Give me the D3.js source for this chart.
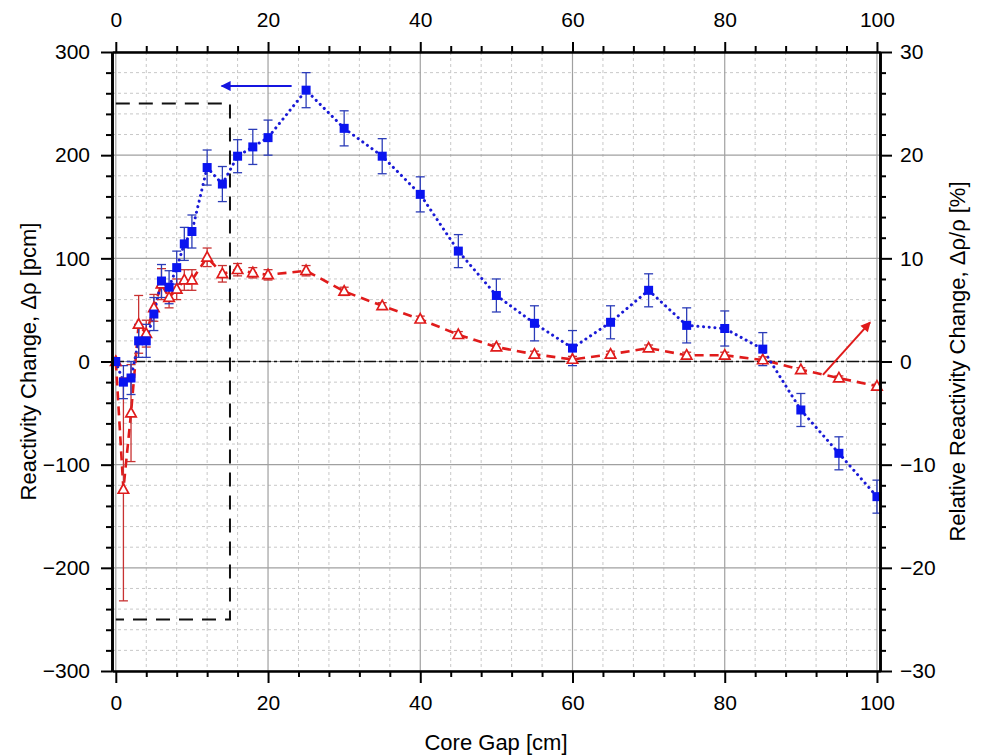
<!DOCTYPE html>
<html>
<head>
<meta charset="utf-8">
<script src="https://cdn.jsdelivr.net/npm/d3@7"></script>
<style>
  html, body { margin: 0; padding: 0; background: #fff; }
  svg { display: block; font-family: Arial, "Liberation Sans", sans-serif; }
</style>
</head>
<body>
<svg id="chart" width="982" height="755"></svg>
<script>
// Core gap positions [cm]
const gaps = [0,1,2,3,4,5,6,7,8,9,10,12,14,16,18,20,25,30,35,40,45,50,55,60,65,70,75,80,85,90,95,100];
// Reactivity change [pcm] and its uncertainty (left axis)
const reactivity = [0,-20,-16,20,20,46,78,72,91,114,126,188,172,199,208,217,263,226,199,162,107,64,37,13,38,69,35,32,12,-47,-89,-131];
const reactivityErr = [0,16,16,16,16,16,16,16,16,16,16,17,17,16,17,17,17,17,17,17,16,16,17,17,16,16,17,17,16,16,16,16];
// Relative reactivity change [%] and its uncertainty (right axis)
const relative = [0,-12.4,-5.0,3.6,2.7,5.2,7.5,6.2,7.0,7.9,7.9,10.1,8.5,8.9,8.6,8.4,8.8,6.8,5.4,4.1,2.6,1.4,0.7,0.2,0.7,1.3,0.6,0.6,0.15,-0.8,-1.6,-2.4];
const relativeErr = [0,10.8,4.7,2.8,1.3,1.3,1.5,1.0,1.0,1.0,1.0,0.9,0.8,0.6,0.5,0.5,0.5,0.4,0.3,0.3,0.3,0.3,0.3,0.3,0.3,0.3,0.3,0.3,0.3,0.2,0.2,0.2];

// Axis ticks
const xMajor = [0,20,40,60,80,100];
const yLeftMajor = [-300,-200,-100,0,100,200,300];
const yRightMajor = [-30,-20,-10,0,10,20,30];

// Zoomed-in region box and direction arrows
const boxX = [0, 15];
const boxY = [-250, 250];
const blueArrow = {from: [23.1, 267], to: [13.9, 267]};
const redArrow = {from: [92.9, -1.3], to: [99.1, 3.8]};

const svg = d3.select("#chart");
const L = 112, R = 880, T = 52, B = 671;

const x = d3.scaleLinear().domain([-0.5, 100.4]).range([L, R]);
const y = d3.scaleLinear().domain([-300, 300]).range([B, T]);
const yR = d3.scaleLinear().domain([-30, 30]).range([B, T]);

const xMinor = d3.range(0, 101, 4).filter(v => v % 20 !== 0);
const yMinor = d3.range(-300, 301, 20).filter(v => v % 100 !== 0);
const yRMinor = d3.range(-30, 31, 2).filter(v => v % 10 !== 0);

// Grid
const grid = svg.append("g");
grid.selectAll(".gxm").data(xMinor).join("line")
  .attr("x1", d => x(d)).attr("x2", d => x(d)).attr("y1", T).attr("y2", B)
  .attr("stroke", "#c8c8c8").attr("stroke-width", 1).attr("stroke-dasharray", "3,3");
grid.selectAll(".gym").data(yMinor).join("line")
  .attr("x1", L).attr("x2", R).attr("y1", d => y(d)).attr("y2", d => y(d))
  .attr("stroke", "#c8c8c8").attr("stroke-width", 1).attr("stroke-dasharray", "3,3");
grid.selectAll(".gxM").data(xMajor).join("line")
  .attr("x1", d => x(d)).attr("x2", d => x(d)).attr("y1", T).attr("y2", B)
  .attr("stroke", "#a0a0a0").attr("stroke-width", 1.2);
grid.selectAll(".gyM").data(yLeftMajor).join("line")
  .attr("x1", L).attr("x2", R).attr("y1", d => y(d)).attr("y2", d => y(d))
  .attr("stroke", "#a0a0a0").attr("stroke-width", 1.2);

// Zero reference line
svg.append("line")
  .attr("x1", L).attr("x2", R).attr("y1", y(0)).attr("y2", y(0))
  .attr("stroke", "#111").attr("stroke-width", 1.6).attr("stroke-dasharray", "12,3,3,3");

// Dashed box around the small-gap region (top, right and bottom sides)
svg.append("path")
  .attr("d", d3.line()([[x(boxX[0]), y(boxY[1])], [x(boxX[1]), y(boxY[1])], [x(boxX[1]), y(boxY[0])], [x(boxX[0]), y(boxY[0])]]))
  .attr("fill", "none").attr("stroke", "#111").attr("stroke-width", 2).attr("stroke-dasharray", "14,9");

const blueData = gaps.map((g, i) => ({g, v: reactivity[i], e: reactivityErr[i]}));
const redData = gaps.map((g, i) => ({g, v: relative[i], e: relativeErr[i]}));

// Relative change: dashed red line
svg.append("path").datum(redData)
  .attr("d", d3.line().x(d => x(d.g)).y(d => yR(d.v)))
  .attr("fill", "none").attr("stroke", "#e01b1b").attr("stroke-width", 2.6)
  .attr("stroke-dasharray", "9,6");

// Reactivity change: dotted blue line
svg.append("path").datum(blueData)
  .attr("d", d3.line().x(d => x(d.g)).y(d => y(d.v)))
  .attr("fill", "none").attr("stroke", "#1a1ad6").attr("stroke-width", 3)
  .attr("stroke-linecap", "round").attr("stroke-dasharray", "0.1,5.6");

// Error bars
function errorBars(data, scale, color, cap, width) {
  const g = svg.append("g").attr("stroke", color).attr("stroke-width", width).attr("fill", "none");
  const d = data.filter(p => p.e > 0);
  g.selectAll(".v").data(d).join("line")
    .attr("x1", p => x(p.g)).attr("x2", p => x(p.g))
    .attr("y1", p => scale(p.v - p.e)).attr("y2", p => scale(p.v + p.e));
  g.selectAll(".t").data(d).join("line")
    .attr("x1", p => x(p.g) - cap).attr("x2", p => x(p.g) + cap)
    .attr("y1", p => scale(p.v + p.e)).attr("y2", p => scale(p.v + p.e));
  g.selectAll(".b").data(d).join("line")
    .attr("x1", p => x(p.g) - cap).attr("x2", p => x(p.g) + cap)
    .attr("y1", p => scale(p.v - p.e)).attr("y2", p => scale(p.v - p.e));
}
errorBars(redData, yR, "#c83232", 4.5, 1.3);
errorBars(blueData, y, "#2b3cb8", 4.5, 1.3);

// Markers
svg.append("g").selectAll("path").data(redData).join("path")
  .attr("transform", d => `translate(${x(d.g)},${yR(d.v)})`)
  .attr("d", "M0,-5.6L5.2,3.8L-5.2,3.8Z")
  .attr("fill", "#fff").attr("stroke", "#e01b1b").attr("stroke-width", 1.7);
svg.append("g").selectAll("rect").data(blueData).join("rect")
  .attr("x", d => x(d.g) - 4.5).attr("y", d => y(d.v) - 4.5)
  .attr("width", 9).attr("height", 9).attr("fill", "#0a14f0");

// Arrows
const defs = svg.append("defs");
function arrowHead(id, color) {
  defs.append("marker").attr("id", id).attr("viewBox", "0 0 10 10")
    .attr("refX", 9).attr("refY", 5).attr("markerWidth", 6).attr("markerHeight", 5)
    .attr("markerUnits", "strokeWidth").attr("orient", "auto")
    .append("path").attr("d", "M0,0L10,5L0,10Z").attr("fill", color);
}
arrowHead("headBlue", "#1515e0");
arrowHead("headRed", "#e01b1b");
svg.append("line")
  .attr("x1", x(blueArrow.from[0])).attr("y1", y(blueArrow.from[1]))
  .attr("x2", x(blueArrow.to[0])).attr("y2", y(blueArrow.to[1]))
  .attr("stroke", "#1515e0").attr("stroke-width", 2).attr("marker-end", "url(#headBlue)");
svg.append("line")
  .attr("x1", x(redArrow.from[0])).attr("y1", yR(redArrow.from[1]))
  .attr("x2", x(redArrow.to[0])).attr("y2", yR(redArrow.to[1]))
  .attr("stroke", "#e01b1b").attr("stroke-width", 2).attr("marker-end", "url(#headRed)");

// Axes
function styleAxis(g, width) {
  g.select(".domain").attr("stroke", "#000").attr("stroke-width", width);
  g.selectAll(".tick line").attr("stroke", "#000").attr("stroke-width", 2);
  g.selectAll(".tick text").attr("font-size", 21).attr("fill", "#000")
    .attr("font-family", "Arial, 'Liberation Sans', sans-serif");
}
const fmt = d3.format("d");

const gb = svg.append("g").attr("transform", `translate(0,${B})`);
gb.call(d3.axisBottom(x).tickValues(xMinor).tickSize(6).tickFormat("").tickSizeOuter(0));
gb.call(g => styleAxis(g, 2.2));
const gb2 = svg.append("g").attr("transform", `translate(0,${B})`)
  .call(d3.axisBottom(x).tickValues(xMajor).tickSize(12).tickPadding(12).tickFormat(fmt).tickSizeOuter(0));
styleAxis(gb2, 2.2);

const gt = svg.append("g").attr("transform", `translate(0,${T})`);
gt.call(d3.axisTop(x).tickValues(xMinor).tickSize(6).tickFormat("").tickSizeOuter(0));
styleAxis(gt, 2.2);
const gt2 = svg.append("g").attr("transform", `translate(0,${T})`)
  .call(d3.axisTop(x).tickValues(xMajor).tickSize(10).tickPadding(15).tickFormat(fmt).tickSizeOuter(0));
styleAxis(gt2, 2.2);

const gl = svg.append("g").attr("transform", `translate(${L},0)`);
gl.call(d3.axisLeft(y).tickValues(yMinor).tickSize(6).tickFormat("").tickSizeOuter(0));
styleAxis(gl, 2.6);
const gl2 = svg.append("g").attr("transform", `translate(${L},0)`)
  .call(d3.axisLeft(y).tickValues(yLeftMajor).tickSize(11).tickPadding(11).tickFormat(fmt).tickSizeOuter(0));
styleAxis(gl2, 2.6);

const gr = svg.append("g").attr("transform", `translate(${R},0)`);
gr.call(d3.axisRight(yR).tickValues(yRMinor).tickSize(6).tickFormat("").tickSizeOuter(0));
styleAxis(gr, 2.6);
const gr2 = svg.append("g").attr("transform", `translate(${R},0)`)
  .call(d3.axisRight(yR).tickValues(yRightMajor).tickSize(12).tickPadding(8).tickFormat(fmt).tickSizeOuter(0));
styleAxis(gr2, 2.6);

// Axis titles
svg.append("text").attr("x", (L + R) / 2).attr("y", 750).attr("text-anchor", "middle")
  .attr("font-size", 22).text("Core Gap [cm]");
svg.append("text").attr("transform", `translate(36,${(T + B) / 2}) rotate(-90)`)
  .attr("text-anchor", "middle").attr("font-size", 22).text("Reactivity Change, Δρ [pcm]");
svg.append("text").attr("transform", `translate(965,${(T + B) / 2}) rotate(-90)`)
  .attr("text-anchor", "middle").attr("font-size", 22).text("Relative Reactivity Change, Δρ/ρ [%]");
</script>
</body>
</html>
